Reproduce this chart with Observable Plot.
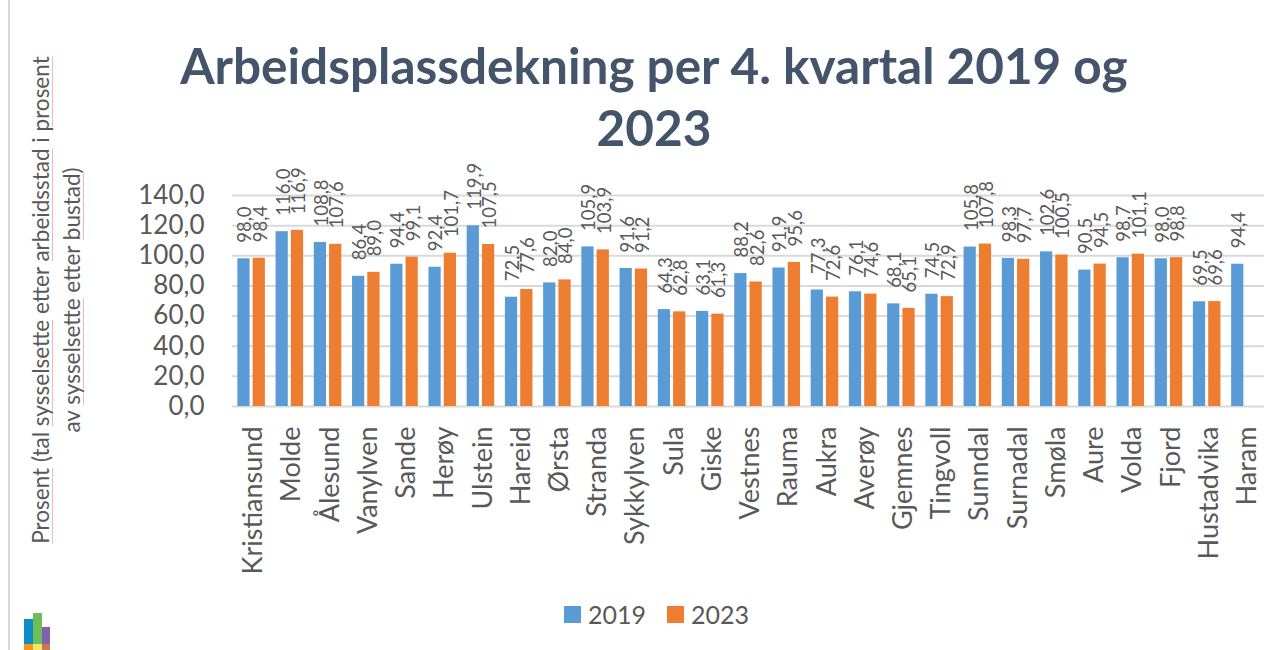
<!DOCTYPE html>
<html lang="nn">
<head>
<meta charset="utf-8">
<script src="https://cdn.jsdelivr.net/npm/d3@7"></script>
<script src="https://cdn.jsdelivr.net/npm/@observablehq/plot@0.6"></script>
<style>
html,body{margin:0;padding:0;background:#fff;overflow:hidden;width:1282px;height:650px;font-family:Lato,sans-serif;color:#595959}
#chart{position:absolute;left:0;top:0}
#frame{position:absolute;left:8px;top:0;width:2px;height:650px;background:#D9D9D9}
#title{position:absolute;left:104px;width:1100px;top:34px;text-align:center;font-size:49.5px;font-weight:700;line-height:62px;color:#44546A}
#ytitle{position:absolute;left:56px;top:300px;transform:translate(-50%,-50%) rotate(-90deg);white-space:nowrap;text-align:center;font-size:22.5px;line-height:31px}
#ytitle span{text-decoration:underline;text-decoration-color:#F7B4B4;text-decoration-thickness:1px;text-underline-offset:3px}
#legend{position:absolute;left:564px;top:597px;display:flex;align-items:center;font-size:25px;line-height:34px}
#legend i{display:inline-block;width:17px;height:17px;margin-right:7px}
#legend b{font-weight:400;margin-right:21px}
.logo{position:absolute}
</style>
</head>
<body>
<div id="frame"></div>
<div id="chart"></div>
<div id="title">Arbeidsplassdekning per 4. kvartal 2019 og<br>2023</div>
<div id="ytitle"><span>Prosent</span> (tal <span>sysselsette</span> etter <span>arbeidsstad</span> i <span>prosent</span><br>av <span>sysselsette</span> etter <span>bustad</span>)</div>
<div id="legend"><i style="background:#5B9BD5"></i><b>2019</b><i style="background:#ED7D31"></i><b>2023</b></div>
<div class="logo" style="left:24px;top:619px;width:9px;height:25px;background:#0E8CC4"></div>
<div class="logo" style="left:33px;top:613px;width:9px;height:31px;background:#6DBE5B"></div>
<div class="logo" style="left:42px;top:627px;width:8px;height:17px;background:#8361AE"></div>
<div class="logo" style="left:24px;top:644px;width:9px;height:6px;background:#F7941D"></div>
<div class="logo" style="left:33px;top:644px;width:9px;height:6px;background:#EFE56F"></div>
<div class="logo" style="left:42px;top:644px;width:8px;height:6px;background:#CC7A4A"></div>
<script>
const kommunar = ["Kristiansund","Molde","Ålesund","Vanylven","Sande","Herøy","Ulstein","Hareid","Ørsta","Stranda","Sykkylven","Sula","Giske","Vestnes","Rauma","Aukra","Averøy","Gjemnes","Tingvoll","Sunndal","Surnadal","Smøla","Aure","Volda","Fjord","Hustadvika","Haram"];
const verdi2019 = [98.0,116.0,108.8,86.4,94.4,92.4,119.9,72.5,82.0,105.9,91.6,64.3,63.1,88.2,91.9,77.3,76.1,68.1,74.5,105.8,98.3,102.6,90.5,98.7,98.0,69.5,94.4];
const verdi2023 = [98.4,116.9,107.6,89.0,99.1,101.7,107.5,77.6,84.0,103.9,91.2,62.8,61.3,82.6,95.6,72.6,74.6,65.1,72.9,107.8,97.7,100.5,94.5,101.1,98.8,69.6,null];
const yTicks = [0,20,40,60,80,100,120,140];
const fmt = d => d.toFixed(1).replace(".", ",");
const rows = kommunar.flatMap((k,i) => [
  {k, aar:"2019", v:verdi2019[i]},
  ...(verdi2023[i] == null ? [] : [{k, aar:"2023", v:verdi2023[i]}])
]);
const font = "Lato, sans-serif";
const plot = Plot.plot({
  width:1282, height:650,
  marginTop:195, marginBottom:244, marginLeft:232, marginRight:18,
  style:{fontFamily:font, color:"#595959", background:"transparent"},
  fx:{domain:kommunar, padding:0, round:false, label:null},
  x:{domain:["2019","2023"], paddingInner:0.2, paddingOuter:0.35, round:false, axis:null},
  y:{domain:[0,140], label:null},
  color:{domain:["2019","2023"], range:["#5B9BD5","#ED7D31"]},
  marks:[
    Plot.ruleY(yTicks,{stroke:"#D9D9D9",strokeWidth:2}),
    Plot.axisY({ticks:yTicks,tickFormat:fmt,tickSize:0,tickPadding:28,fontSize:26,label:null,fill:"#595959"}),
    Plot.axisFx({anchor:"bottom",tickRotate:-90,tickSize:0,tickPadding:20,fontSize:27,dx:2,label:null,fill:"#595959"}),
    Plot.barY(rows,{fx:"k",x:"aar",y:"v",fill:"aar"}),
    Plot.text(rows,{fx:"k",x:"aar",y:"v",text:d=>fmt(d.v),rotate:-90,textAnchor:"start",dx:1.5,dy:-16,fontSize:18.5,fill:"#595959"})
  ]
});
document.getElementById("chart").appendChild(plot);
</script>
</body>
</html>
